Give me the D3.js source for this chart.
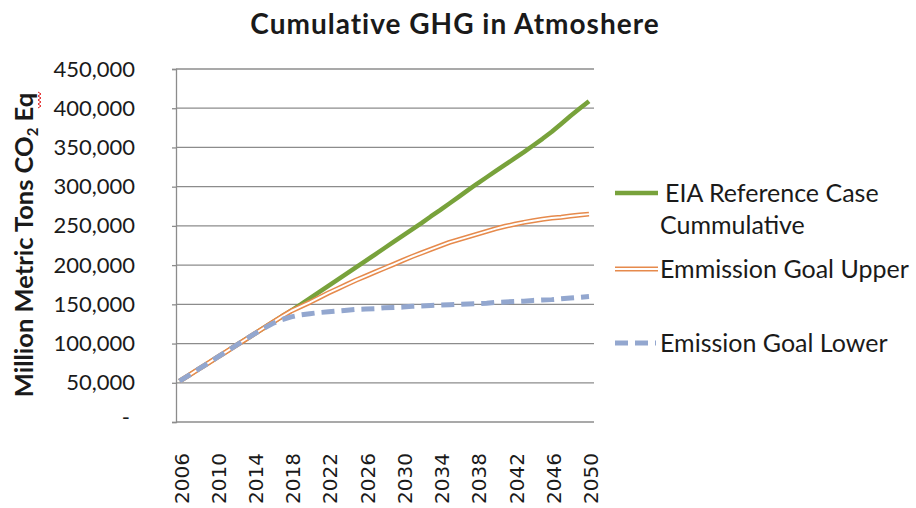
<!DOCTYPE html>
<html>
<head>
<meta charset="utf-8">
<script src="https://cdn.jsdelivr.net/npm/d3@7"></script>
<style>
  body { margin: 0; background: #fff; }
  text { font-family: Lato, "Open Sans", sans-serif; fill: #1a1a1a; }
</style>
</head>
<body>
<div id="chart"></div>
<script>
// years on the category axis
const years = d3.range(2006, 2051);
const tickYears = [2006, 2010, 2014, 2018, 2022, 2026, 2030, 2034, 2038, 2042, 2046, 2050];
const yTicks = [0, 50000, 100000, 150000, 200000, 250000, 300000, 350000, 400000, 450000];

// thousands of million metric tons
const eiaRef = [52, 59.5, 67, 74.5, 82, 89.5, 97, 104.5, 112, 119.5, 127, 134.5, 142, 149.5,
  157.5, 165.5, 173.5, 181.5, 189.5, 197.5, 205.5, 213.5, 221.5, 229.5, 237.5, 245.5, 253.5,
  262, 270, 278.5, 287, 295.5, 304, 312, 320, 328, 336, 344, 352.5, 361, 370, 380, 390, 399.5, 409];
const goalUpper = [52, 59.5, 67, 74.5, 82, 89.5, 97, 104.5, 112, 119.5, 127, 134.5, 141.5, 147,
  152.5, 158.5, 164.5, 170, 175.5, 181, 186, 191, 196, 201, 206, 211, 215.5, 220, 224.5, 229,
  232.5, 236, 239.5, 243, 246.5, 249.5, 252, 254.5, 256.5, 258.5, 260, 261, 262.5, 264, 265];
const goalLower = [52, 59.5, 67, 74.5, 82, 89.5, 97, 104.5, 112, 119, 125.5, 130.5, 134, 136.5,
  138, 139.5, 140.5, 141.5, 142.5, 143.5, 144, 144.5, 145.5, 146, 146.5, 147.5, 148, 148.5, 149,
  149.5, 150, 150.5, 151, 151.5, 152.5, 153, 153.5, 154, 155, 155.5, 156, 157, 158, 159, 160];

const W = 916, H = 508;
const plot = { left: 176, right: 594, top: 69, bottom: 422 };

const svg = d3.select("#chart").append("svg")
    .attr("width", W)
    .attr("height", H);

const x = d3.scalePoint()
    .domain(years)
    .range([179.5, 589]);

const y = d3.scaleLinear()
    .domain([0, 450000])
    .range([plot.bottom, plot.top]);

// gridlines
svg.append("g")
    .selectAll("line")
    .data(yTicks.slice(1))
    .enter().append("line")
    .attr("x1", plot.left)
    .attr("x2", plot.right)
    .attr("y1", d => y(d))
    .attr("y2", d => y(d))
    .style("stroke", "#8c8c8c")
    .style("stroke-width", 1.3);

// y axis
const yAxis = svg.append("g")
    .attr("transform", "translate(" + plot.left + ",0)")
    .call(d3.axisLeft(y).tickValues(yTicks).tickSize(4).tickPadding(37)
        .tickFormat(d => d === 0 ? "-" : d3.format(",")(d)));
yAxis.select(".domain").style("stroke", "#8c8c8c").style("stroke-width", 1.3);
yAxis.selectAll(".tick line").style("stroke", "#8c8c8c").style("stroke-width", 1.3);
yAxis.selectAll(".tick text")
    .style("font-family", "Lato")
    .style("font-size", "22px")
    .style("fill", "#1a1a1a");
yAxis.selectAll(".tick text").filter(d => d === 0).attr("x", -46).attr("dy", "0.1em");

// x axis baseline
svg.append("line")
    .attr("x1", plot.left).attr("x2", plot.right)
    .attr("y1", plot.bottom).attr("y2", plot.bottom)
    .style("stroke", "#8c8c8c")
    .style("stroke-width", 1.3);

// x labels, rotated
svg.append("g")
    .selectAll("text")
    .data(tickYears)
    .enter().append("text")
    .attr("transform", d => "translate(" + (x(d) + 9) + ",453) rotate(-90)")
    .attr("text-anchor", "end")
    .style("font-family", "DejaVu Sans")
    .style("font-size", "20px")
    .style("fill", "#1a1a1a")
    .text(d => d);

const line = d3.line()
    .x((d, i) => x(years[i]))
    .y(d => y(d * 1000));

// EIA reference
svg.append("path")
    .attr("d", line(eiaRef))
    .style("fill", "none")
    .style("stroke", "#78a23b")
    .style("stroke-width", 4.5)
    .style("stroke-linejoin", "round");

// emission goal upper (double line)
svg.append("path")
    .attr("d", line(goalUpper))
    .style("fill", "none")
    .style("stroke", "#e68a4c")
    .style("stroke-width", 5)
    .style("stroke-linejoin", "round");
svg.append("path")
    .attr("d", line(goalUpper))
    .style("fill", "none")
    .style("stroke", "#ffffff")
    .style("stroke-width", 2)
    .style("stroke-linejoin", "round");

// emission goal lower (dashed)
svg.append("path")
    .attr("d", line(goalLower))
    .style("fill", "none")
    .style("stroke", "#93a7cf")
    .style("stroke-width", 5)
    .style("stroke-dasharray", "13,7");

// title
svg.append("text")
    .attr("x", 455)
    .attr("y", 34)
    .attr("text-anchor", "middle")
    .style("font-size", "28px")
    .style("letter-spacing", "1px")
    .style("font-weight", "bold")
    .text("Cumulative GHG in Atmoshere");

// y axis title
const yt = svg.append("text")
    .attr("transform", "translate(33,245) rotate(-90)")
    .attr("text-anchor", "middle")
    .style("font-size", "25.5px")
    .style("font-weight", "bold");
yt.append("tspan").text("Million Metric Tons CO");
yt.append("tspan").attr("dy", 5).style("font-size", "15px").text("2");
yt.append("tspan").attr("dy", -5).text(" Eq");

// spell-check squiggle under "Eq"
svg.append("path")
    .attr("d", d3.range(0, 9).map((k, i) => (i ? "L" : "M") + (i % 2 ? 41 : 38) + "," + (92 + k * 2)).join(""))
    .style("fill", "none")
    .style("stroke", "#e02020")
    .style("stroke-width", 1);

// legend
const legend = svg.append("g");
const lg = [
  { y: 193, lines: ["EIA Reference Case", "Cummulative"], tx: [665, 660] },
  { y: 269, lines: ["Emmission Goal Upper"], tx: [660] },
  { y: 343, lines: ["Emission Goal Lower"], tx: [660] }
];
legend.append("line").attr("x1", 615).attr("x2", 658).attr("y1", lg[0].y).attr("y2", lg[0].y)
    .style("stroke", "#78a23b").style("stroke-width", 4.5);
legend.append("line").attr("x1", 615).attr("x2", 658).attr("y1", lg[1].y).attr("y2", lg[1].y)
    .style("stroke", "#e68a4c").style("stroke-width", 5);
legend.append("line").attr("x1", 615).attr("x2", 658).attr("y1", lg[1].y).attr("y2", lg[1].y)
    .style("stroke", "#fff").style("stroke-width", 2);
legend.append("line").attr("x1", 615).attr("x2", 656).attr("y1", lg[2].y).attr("y2", lg[2].y)
    .style("stroke", "#93a7cf").style("stroke-width", 5).style("stroke-dasharray", "13,7");

lg.forEach(item => {
  item.lines.forEach((t, j) => {
    legend.append("text")
        .attr("x", item.tx[j])
        .attr("y", item.y + j * 32)
        .attr("dy", "0.36em")
        .style("font-size", "25px")
        .text(t);
  });
});
</script>
</body>
</html>
